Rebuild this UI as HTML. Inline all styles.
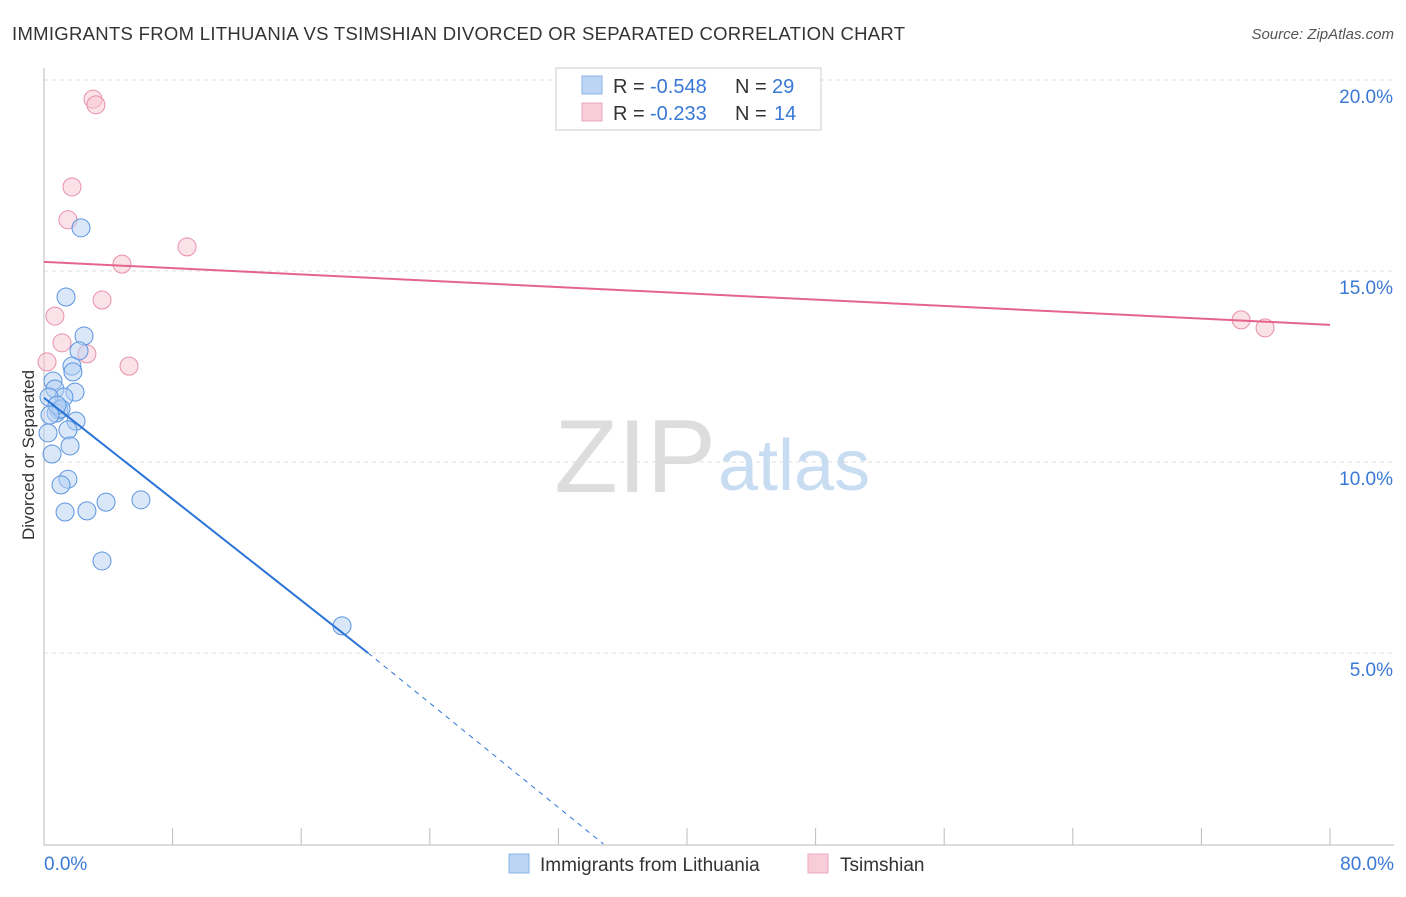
<!DOCTYPE html>
<html><head><meta charset="utf-8"><style>
body{margin:0;background:#fff;font-family:"Liberation Sans",sans-serif;}
svg text{font-family:"Liberation Sans",sans-serif;}
</style></head><body>
<svg id="c" width="1406" height="892">
<text x="12" y="40" font-size="18.5" letter-spacing="0.3" fill="#333">IMMIGRANTS FROM LITHUANIA VS TSIMSHIAN DIVORCED OR SEPARATED CORRELATION CHART</text>
<text x="1394" y="39" font-size="15" fill="#555" font-style="italic" text-anchor="end">Source: ZipAtlas.com</text>
<text transform="translate(34,455) rotate(-90)" font-size="17" fill="#333" text-anchor="middle">Divorced or Separated</text>
<g id="grid"></g><g id="axes"></g>
<text x="716" y="492" font-size="104" fill="#ddd" text-anchor="end" font-family="Liberation Serif">ZIP</text>
<text x="718" y="490" font-size="72" fill="#c8dcf2">atlas</text>
<g id="pts"></g><g id="trend"></g>
<g>
<rect x="556" y="68" width="265" height="62" fill="#fff" stroke="#ccc"/>
<rect x="582" y="76" width="20" height="18" fill="#bcd5f5" stroke="#8ab3e8"/>
<text x="613" y="93" font-size="20" fill="#333">R =</text>
<text x="650" y="93" font-size="20" fill="#3a78d6">-0.548</text>
<text x="735" y="93" font-size="20" fill="#333">N =</text>
<text x="772" y="93" font-size="20" fill="#3a78d6">29</text>
<rect x="582" y="103" width="20" height="18" fill="#f8cdd9" stroke="#eea8bc"/>
<text x="613" y="120" font-size="20" fill="#333">R =</text>
<text x="650" y="120" font-size="20" fill="#3a78d6">-0.233</text>
<text x="735" y="120" font-size="20" fill="#333">N =</text>
<text x="774" y="120" font-size="20" fill="#3a78d6">14</text>
</g>
<g>
<rect x="509" y="854" width="20" height="19" fill="#bcd5f5" stroke="#8ab3e8"/>
<text x="540" y="871" font-size="19" fill="#333">Immigrants from Lithuania</text>
<rect x="808" y="854" width="20" height="19" fill="#f8cdd9" stroke="#eea8bc"/>
<text x="840" y="871" font-size="19" fill="#333">Tsimshian</text>
</g>
</svg>
<script>
const blueX=[2.30,1.37,2.49,2.18,1.74,1.80,0.56,0.68,1.93,1.24,0.31,0.93,0.75,1.06,0.81,1.99,1.49,0.25,1.62,0.50,1.49,1.06,1.31,2.67,3.86,6.03,3.61,18.54,0.37];
const blueY=[16.13,14.32,13.30,12.91,12.51,12.36,12.12,11.91,11.83,11.70,11.70,11.36,11.28,11.39,11.49,11.07,10.84,10.76,10.42,10.21,9.55,9.40,8.69,8.72,8.95,9.01,7.41,5.71,11.23];
const pinkX=[3.05,3.23,1.74,1.49,8.90,4.85,3.61,0.68,1.12,2.67,0.19,5.29,74.47,75.96];
const pinkY=[19.50,19.35,17.20,16.34,15.63,15.18,14.24,13.82,13.12,12.83,12.62,12.51,13.72,13.51];
const blueTrendX=[0,20.16,34.8];
const blueTrendY=[11.68,5.0,0];
const pinkTrendX=[0,80];
const pinkTrendY=[15.24,13.59];
const yTicks=[5,10,15,20];
const xTickLabels=["0.0%","80.0%"];
const NS="http://www.w3.org/2000/svg";
const sx=v=>44+v/80*1286, sy=v=>844-v*38.2;
function mk(p,t,a){const e=document.createElementNS(NS,t);for(const k in a)e.setAttribute(k,a[k]);p.appendChild(e);return e;}
const grid=document.getElementById('grid'),axes=document.getElementById('axes'),pts=document.getElementById('pts'),tr=document.getElementById('trend');
yTicks.forEach(t=>{
 const l=mk(grid,'line',{x1:44,x2:1394,y1:sy(t),y2:sy(t),stroke:'#ddd','stroke-dasharray':'4,4'});
 
 
 const tx=mk(axes,'text',{x:1393,y:sy(t)+23,'font-size':19,fill:'#3a78d6','text-anchor':'end'});
 tx.textContent=t.toFixed(1)+'%';
 
 
});
const ax=mk(axes,'line',{x1:44,x2:44,y1:68,y2:845,stroke:'#bbb'});


const bx=mk(axes,'line',{x1:44,x2:1394,y1:845,y2:845,stroke:'#bbb'});


for(let i=0;i<=10;i++){const x=sx(i*8);
 const t=mk(axes,'line',{x1:x,x2:x,y1:828,y2:845,stroke:'#bbb'});
 
 }
[[0,'start',44],[1,'end',1394]].forEach(([i,a,x])=>{
 const t=mk(axes,'text',{x:x,y:870,'font-size':19,fill:'#3a78d6','text-anchor':a});
 t.textContent=xTickLabels[i];
 
 });
function dots(X,Y,f,s,n){X.forEach((x,i)=>{
 const c=mk(pts,'circle',{cx:sx(x),cy:sy(Y[i]),r:9,fill:f,'fill-opacity':0.5,stroke:s,'stroke-width':1});
 
 });}
dots(pinkX,pinkY,'#f8c6d4','#e890aa','point-tsimshian');
dots(blueX,blueY,'#b3cff3','#5b95e0','point-lithuania');
const b1=mk(tr,'line',{x1:sx(blueTrendX[0]),y1:sy(blueTrendY[0]),x2:sx(blueTrendX[1]),y2:sy(blueTrendY[1]),stroke:'#2a74d8','stroke-width':2});


const b2=mk(tr,'line',{x1:sx(blueTrendX[1]),y1:sy(blueTrendY[1]),x2:sx(blueTrendX[2]),y2:sy(blueTrendY[2]),stroke:'#2a74d8','stroke-width':1,'stroke-dasharray':'5,5'});


const p1=mk(tr,'line',{x1:sx(pinkTrendX[0]),y1:sy(pinkTrendY[0]),x2:sx(pinkTrendX[1]),y2:sy(pinkTrendY[1]),stroke:'#e4648e','stroke-width':2});


</script>
</body></html>
